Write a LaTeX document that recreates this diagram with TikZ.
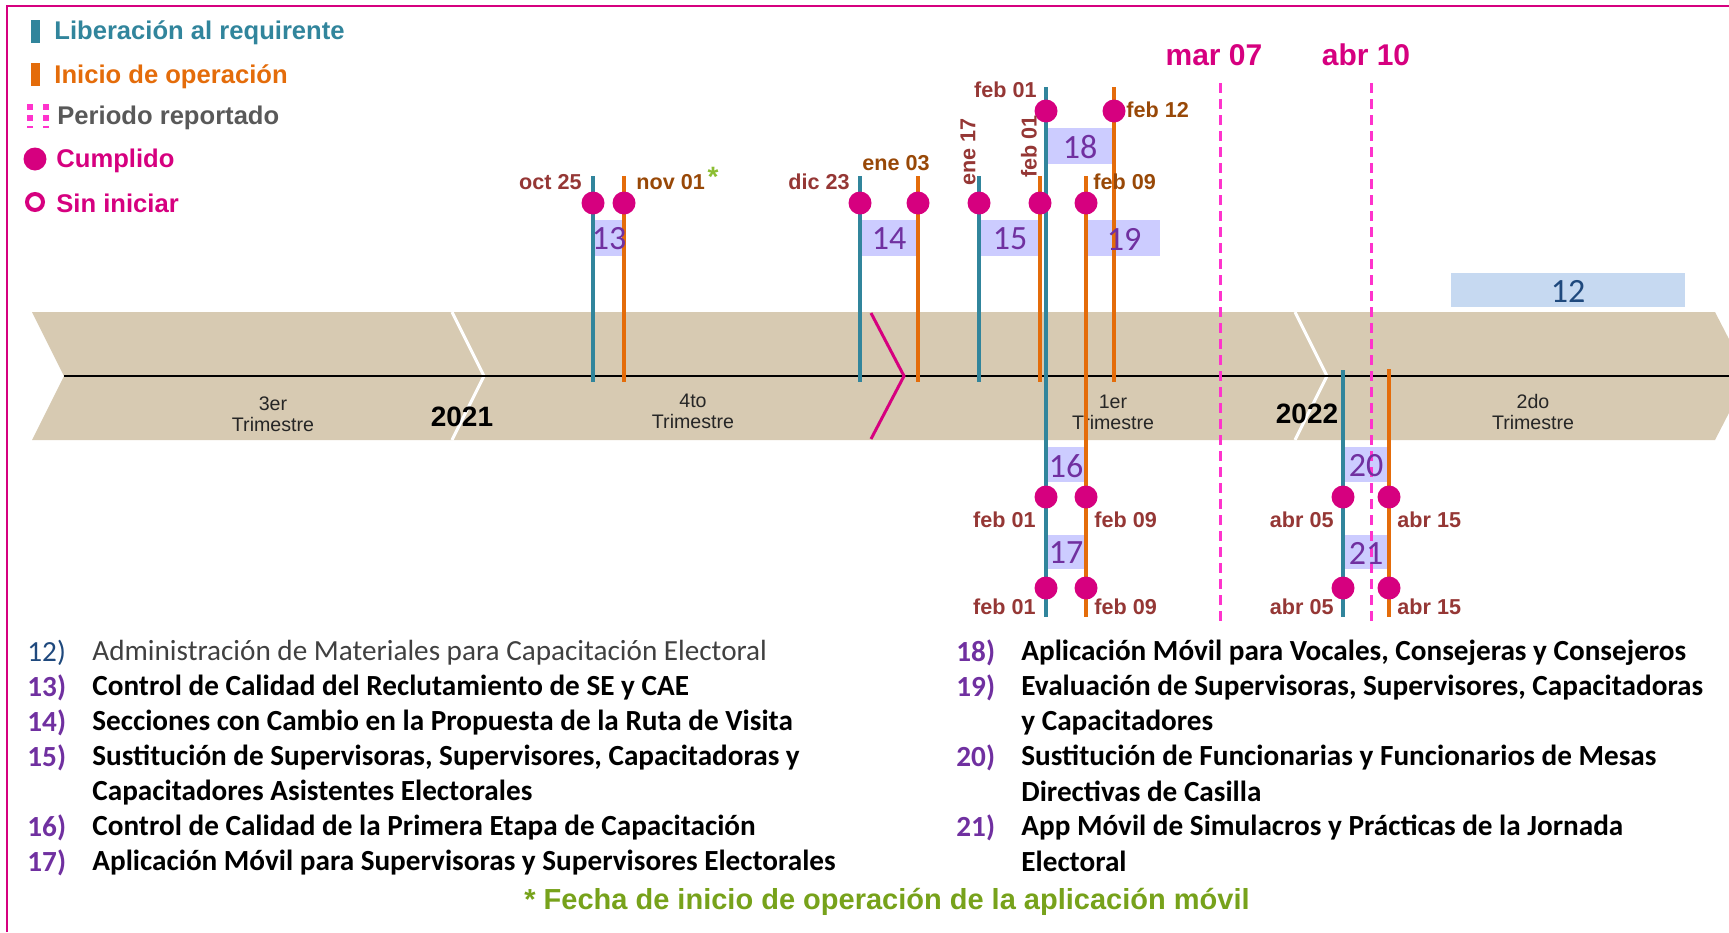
\documentclass[tikz,border=0pt]{standalone}
\usepackage{fontspec}
\setmainfont{Liberation Sans}
\newfontfamily\calfont{Carlito}
\usetikzlibrary{calc}
\definecolor{tealib}{RGB}{49,133,156}
\definecolor{naranja}{RGB}{228,108,10}
\definecolor{rosa}{RGB}{214,0,127}
\definecolor{rosaclaro}{RGB}{255,51,204}
\definecolor{rojizo}{RGB}{149,55,53}
\definecolor{cafe}{RGB}{152,72,7}
\definecolor{lila}{RGB}{204,204,255}
\definecolor{morado}{RGB}{112,48,160}
\definecolor{celeste}{RGB}{198,217,241}
\definecolor{azul}{RGB}{31,73,125}
\definecolor{arena}{RGB}{215,202,178}
\definecolor{verde}{RGB}{119,162,27}
\definecolor{verdeclaro}{RGB}{140,190,50}
\definecolor{gris}{RGB}{89,89,89}
\definecolor{grisosc}{RGB}{64,64,64}

\begin{document}
\begin{tikzpicture}[x=0.5pt,y=-0.5pt,
            lib/.style={tealib,line width=2pt},
            ini/.style={naranja,line width=2pt},
            hecho/.style={circle,fill=rosa,inner sep=0pt,minimum size=11.5pt},
            fecha/.style={rojizo,inner sep=0pt,font=\bfseries\fontsize{10.8}{12}\selectfont},
            fechacafe/.style={fecha,text=cafe},
            numtxt/.style={morado,inner sep=0pt,font=\calfont\fontsize{17}{18}\selectfont},
            trim/.style={align=center,inner sep=0pt,text=black!85,font=\fontsize{9.8}{10.5}\selectfont},
            anio/.style={inner sep=0pt,font=\bfseries\fontsize{14}{16}\selectfont},
            leyenda/.style={anchor=west,inner sep=0pt,font=\bfseries\fontsize{12.8}{15}\selectfont},
            corte/.style={rosa,inner sep=0pt,font=\bfseries\fontsize{15}{17}\selectfont},
            numlista/.style={anchor=west,inner sep=0pt,morado,font=\calfont\bfseries\fontsize{14.6}{17}\selectfont},
            txtlista/.style={anchor=west,inner sep=0pt,font=\calfont\bfseries\fontsize{14.6}{17}\selectfont}]
            \useasboundingbox (0,0) rectangle (1729,932);
            \draw[rosa,line width=1pt] (7,932) -- (7,6) -- (1729,6);
            % leyenda
            \fill[tealib] (31,20) rectangle (40,43);
            \fill[naranja] (31,63) rectangle (40,86);
            \draw[rosaclaro,line width=3pt,dash pattern=on 3pt off 2.5pt] (30,104) -- (30,128) (46,104) -- (46,128);
            \node[hecho] (ley1) at (35,159) {};
            \node[circle,draw=rosa,line width=2pt,minimum size=8pt,inner sep=0pt] (ley2) at (35,202) {};
            \node[leyenda,tealib] (t1) at (54,33) {Liberación  al requirente};
            \node[leyenda,naranja] (t2) at (54,77) {Inicio  de operación};
            \node[leyenda,gris] (t3) at (57,118) {Periodo reportado};
            \node[leyenda,rosa] (t4) at (56,161) {Cumplido};
            \node[leyenda,rosa] (t5) at (56,203) {Sin iniciar};
            % banda de trimestres
            \fill[arena] (32,312) -- (1715,312) -- (1748,376) -- (1715,440) -- (32,440) -- (64,376) -- cycle;
            \draw[white,line width=1.5pt] (452,312) -- (484,376) -- (452,440);
            \draw[white,line width=1.5pt] (1295,312) -- (1327,376) -- (1295,440);
            \draw[line width=1.2pt] (64,376) -- (1729,376);
            \draw[rosa,line width=1.5pt] (871,313) -- (904,376) -- (871,439);
            \node[trim] (q3) at (273,414) {3er\\Trimestre};
            \node[trim] (q4) at (693,411) {4to\\Trimestre};
            \node[trim] (q1) at (1113,412) {1er\\Trimestre};
            \node[trim] (q2) at (1533,412) {2do\\Trimestre};
            \node[anio] (a21) at (462,417) {2021};
            \node[anio] (a22) at (1307,414) {2022};
            % cajas
            \fill[lila] (594,220) rectangle (624,256);
            \fill[lila] (861,220) rectangle (918,256);
            \fill[lila] (981,220) rectangle (1038,256);
            \fill[lila] (1088,220) rectangle (1160,256);
            \fill[lila] (1047,128) rectangle (1112,164);
            \fill[lila] (1046,447) rectangle (1085,482);
            \fill[lila] (1046,535) rectangle (1085,569);
            \fill[lila] (1344,447) rectangle (1387,482);
            \fill[lila] (1344,535) rectangle (1387,569);
            \fill[celeste] (1451,273) rectangle (1685,307);
            % lineas
            \draw[lib] (593,176) -- (593,382);
            \draw[ini] (624,176) -- (624,382);
            \draw[lib] (860,176) -- (860,382);
            \draw[ini] (918,176) -- (918,382);
            \draw[lib] (979,176) -- (979,382);
            \draw[ini] (1040,176) -- (1040,382);
            \draw[ini] (1114,87) -- (1114,382);
            \draw[ini] (1086,176) -- (1086,617);
            \draw[lib] (1046,87) -- (1046,617);
            \draw[lib] (1343,370) -- (1343,617);
            \draw[ini] (1389,369) -- (1389,617);
            \draw[rosaclaro,line width=1.5pt,dash pattern=on 5pt off 3pt] (1220,83) -- (1220,625);
            \draw[rosaclaro,line width=1.5pt,dash pattern=on 5pt off 3pt] (1371,83) -- (1371,625);
            \node[corte] (c1) at (1214,55) {mar  07};
            \node[corte] (c2) at (1366,55) {abr 10};
            % numeros
            \node[numtxt] (n13) at (609,239) {13};
            \node[numtxt] (n14) at (889,239) {14};
            \node[numtxt] (n15) at (1010,239) {15};
            \node[numtxt] (n19) at (1124,239) {19};
            \node[numtxt] (n18) at (1080,147) {18};
            \node[numtxt] (n16) at (1066,466) {16};
            \node[numtxt] (n17) at (1066,553) {17};
            \node[numtxt] (n20) at (1366,466) {20};
            \node[numtxt] (n21) at (1366,553) {21};
            \node[numtxt,azul] (n12) at (1568,291) {12};
            % puntos
            \node[hecho] (d13a) at (593,203) {};
            \node[hecho] (d13b) at (624,203) {};
            \node[hecho] (d14a) at (860,203) {};
            \node[hecho] (d14b) at (918,203) {};
            \node[hecho] (d15a) at (979,203) {};
            \node[hecho] (d15b) at (1040,203) {};
            \node[hecho] (d19b) at (1086,203) {};
            \node[hecho] (d18a) at (1046,111) {};
            \node[hecho] (d18b) at (1114,111) {};
            \node[hecho] (d16a) at (1046,497) {};
            \node[hecho] (d16b) at (1086,497) {};
            \node[hecho] (d17a) at (1046,588) {};
            \node[hecho] (d17b) at (1086,588) {};
            \node[hecho] (d20a) at (1343,497) {};
            \node[hecho] (d20b) at (1389,497) {};
            \node[hecho] (d21a) at (1343,588) {};
            \node[hecho] (d21b) at (1389,588) {};
            % fechas
            \node[fecha,anchor=east] (f13a) at (582,182) {oct 25};
            \node[fechacafe,anchor=west] (f13b) at (636,182) {nov 01};
            \node[verdeclaro,inner sep=0pt,font=\bfseries\fontsize{14}{14}\selectfont] (ast) at (713,177) {*};
            \node[fecha,anchor=east] (f14a) at (850,182) {dic 23};
            \node[fechacafe] (f14b) at (896,163) {ene 03};
            \node[fecha,rotate=90,anchor=west] (f15a) at (968,186) {ene 17};
            \node[fecha,rotate=90,anchor=west] (f15b) at (1029,178) {feb 01};
            \node[fecha,anchor=east] (f18a) at (1037,90) {feb 01};
            \node[fechacafe,anchor=west] (f18b) at (1126,110) {feb 12};
            \node[fechacafe,anchor=west] (f19b) at (1093,182) {feb 09};
            \node[fecha,anchor=east] (f16a) at (1036,520) {feb 01};
            \node[fecha,anchor=west] (f16b) at (1094,520) {feb 09};
            \node[fecha,anchor=east] (f17a) at (1036,607) {feb 01};
            \node[fecha,anchor=west] (f17b) at (1094,607) {feb 09};
            \node[fecha,anchor=east] (f20a) at (1334,520) {abr 05};
            \node[fecha,anchor=west] (f20b) at (1397,520) {abr 15};
            \node[fecha,anchor=east] (f21a) at (1334,607) {abr 05};
            \node[fecha,anchor=west] (f21b) at (1397,607) {abr 15};
            % lista
            \node[numlista,azul,font=\calfont\fontsize{14.6}{17}\selectfont] (i12) at (27,653) {12)};
            \node[txtlista,grisosc,font=\calfont\fontsize{14.6}{17}\selectfont] (x12) at (92,653) {Administración de Materiales para Capacitación Electoral};
            \node[numlista] (i13) at (27,688) {13)};
            \node[txtlista] (x13) at (92,688) {Control de Calidad del Reclutamiento de SE y CAE};
            \node[numlista] (i14) at (27,723) {14)};
            \node[txtlista] (x14) at (92,723) {Secciones con Cambio en la Propuesta de la Ruta de Visita};
            \node[numlista] (i15) at (27,758) {15)};
            \node[txtlista] (x15) at (92,758) {Sustitución de Supervisoras, Supervisores, Capacitadoras y};
            \node[txtlista] (x15b) at (92,793) {Capacitadores Asistentes Electorales};
            \node[numlista] (i16) at (27,828) {16)};
            \node[txtlista] (x16) at (92,828) {Control de Calidad de la Primera Etapa de Capacitación};
            \node[numlista] (i17) at (27,863) {17)};
            \node[txtlista] (x17) at (92,863) {Aplicación  Móvil para Supervisoras y Supervisores Electorales};
            \node[numlista] (i18) at (956,653) {18)};
            \node[txtlista] (x18) at (1021,653) {Aplicación  Móvil para Vocales, Consejeras y Consejeros};
            \node[numlista] (i19) at (956,688) {19)};
            \node[txtlista] (x19) at (1021,688) {Evaluación  de Supervisoras,  Supervisores, Capacitadoras};
            \node[txtlista] (x19b) at (1021,723) {y Capacitadores};
            \node[numlista] (i20) at (956,758) {20)};
            \node[txtlista] (x20) at (1021,758) {Sustitución de Funcionarias  y Funcionarios  de Mesas};
            \node[txtlista] (x20b) at (1021,791) {Directivas de Casilla};
            \node[numlista] (i21) at (956,828) {21)};
            \node[txtlista] (x21) at (1021,828) {App Móvil de Simulacros y Prácticas de la Jornada};
            \node[txtlista] (x21b) at (1021,861) {Electoral};
            \node[verde,inner sep=0pt,font=\bfseries\fontsize{14.5}{17}\selectfont] (nota) at (887,902) {* Fecha de inicio de operación de la aplicación móvil};
        \end{tikzpicture}
\end{document}
